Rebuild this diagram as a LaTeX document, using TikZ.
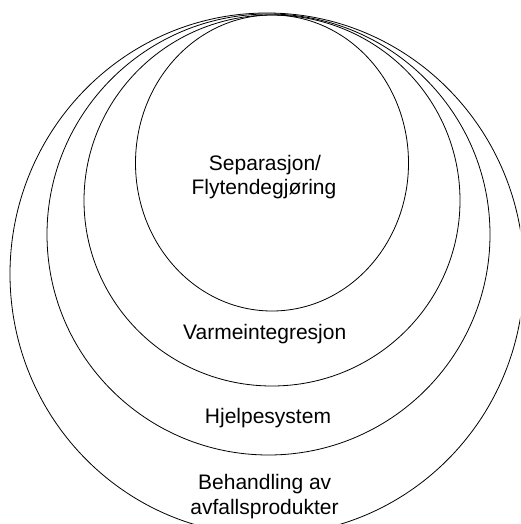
\documentclass[tikz,border=0pt]{standalone}
\usepackage{fontspec}
\setmainfont{Liberation Sans}
\usetikzlibrary{shapes.geometric}
\begin{document}
\begin{tikzpicture}[x=1pt,y=-1pt,
  ring/.style={ellipse,draw=black,line width=0.8pt,inner sep=0pt},
  lbl/.style={anchor=base,inner sep=0pt,font=\fontsize{21}{24}\selectfont}]
\useasboundingbox (0,0) rectangle (520,524);
\clip (0,0) rectangle (520,524);
\fill[white] (0,0) rectangle (520,524);
% nested layers, all touching near the top
\node[ring,minimum width=514pt,minimum height=522pt] (waste) at (267,274) {};
\node[ring,minimum width=443pt,minimum height=441pt] (aux)   at (268.5,234.5) {};
\node[ring,minimum width=376pt,minimum height=371pt] (heat)  at (272,200.5) {};
\node[ring,minimum width=273pt,minimum height=296pt] (sep)   at (272,163) {};
% layer names
\node[lbl] (sep1) at (265,170.5) {Separasjon/};
\node[lbl] (sep2) at (264,194.3) {Flytendegjøring};
\node[lbl] (heatl) at (264.7,339) {Varmeintegresjon};
\node[lbl] (auxl) at (268,423) {Hjelpesystem};
\node[lbl] (wst1) at (264.7,489) {Behandling av};
\node[lbl] (wst2) at (264.5,514) {avfallsprodukter};
\end{tikzpicture}
\end{document}
